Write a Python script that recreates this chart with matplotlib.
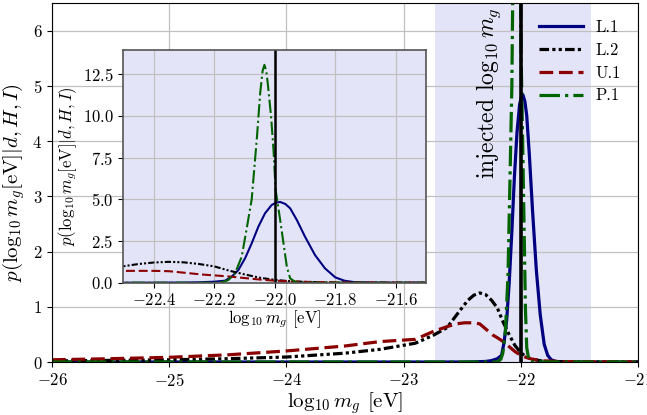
import matplotlib
matplotlib.use('Agg')
import matplotlib.pyplot as plt

plt.rcParams['font.family'] = 'serif'
plt.rcParams['font.serif'] = ['cmr10']
plt.rcParams['mathtext.fontset'] = 'cm'
plt.rcParams['axes.formatter.use_mathtext'] = True

# posterior curves
x_l1 = [-26.0, -22.5, -22.4, -22.3, -22.25, -22.2, -22.164, -22.142, -22.12, -22.098,
        -22.076, -22.054, -22.032, -22.01, -21.995, -21.982, -21.965, -21.949, -21.927,
        -21.9, -21.867, -21.834, -21.8, -21.77, -21.74, -21.7, -21.6, -21.0]
y_l1 = [0.0, 0.0, 0.003, 0.01, 0.025, 0.06, 0.12, 0.36, 0.76, 1.46,
        2.36, 3.36, 4.16, 4.66, 4.8, 4.84, 4.72, 4.46, 3.76,
        2.76, 1.66, 0.86, 0.32, 0.12, 0.04, 0.01, 0.0, 0.0]

x_l2 = [-26.0, -25.5, -25.0, -24.5, -24.0, -23.5, -23.2, -22.9, -22.75, -22.63, -22.52,
        -22.45, -22.4, -22.35, -22.3, -22.25, -22.2, -22.15, -22.1, -22.05, -22.0,
        -21.95, -21.9, -21.8, -21.6, -21.0]
y_l2 = [0.02, 0.03, 0.04, 0.06, 0.09, 0.16, 0.23, 0.34, 0.48, 0.62, 0.93,
        1.12, 1.21, 1.25, 1.22, 1.12, 0.98, 0.72, 0.5, 0.3, 0.17,
        0.09, 0.05, 0.01, 0.0, 0.0]

x_u1 = [-26.0, -25.5, -25.0, -24.5, -24.0, -23.5, -23.2, -22.9, -22.75, -22.63, -22.55,
        -22.48, -22.4, -22.35, -22.3, -22.24, -22.2, -22.15, -22.1, -22.05, -22.0,
        -21.95, -21.9, -21.8, -21.6, -21.0]
y_u1 = [0.04, 0.06, 0.085, 0.13, 0.2, 0.29, 0.37, 0.41, 0.55, 0.64, 0.69,
        0.71, 0.71, 0.69, 0.6, 0.49, 0.44, 0.37, 0.28, 0.19, 0.12,
        0.08, 0.05, 0.02, 0.005, 0.0]

x_p1 = [-26.0, -22.3, -22.2, -22.17, -22.153, -22.131, -22.109, -22.092, -22.076,
        -22.059, -22.048, -22.04, -22.034, -22.028, -22.023, -22.012, -22.004, -21.997,
        -21.982, -21.971, -21.96, -21.949, -21.93, -21.9, -21.0]
y_p1 = [0.0, 0.0, 0.0, 0.05, 0.16, 0.56, 1.56, 3.3, 5.0,
        8.66, 11.36, 12.7, 13.06, 12.7, 11.96, 9.96, 7.96, 5.56,
        3.76, 2.36, 0.96, 0.26, 0.02, 0.0, 0.0]

labels = ['L.1', 'L.2', 'U.1', 'P.1']
colors = ['navy', 'black', 'darkred', 'darkgreen']
styles = ['-', (0, (3, 1, 1, 1, 1, 1)), (0, (4.3, 1.8)), '-.']
curves = [(x_l1, y_l1), (x_l2, y_l2), (x_u1, y_u1), (x_p1, y_p1)]

injected = -22.0
band = (-22.73, -21.40)
shade = '#e4e4f8'

fig = plt.figure(figsize=(6.47, 4.15), dpi=100)
ax = fig.add_axes([0.0804, 0.1277, 0.9056, 0.8651])

ax.axvspan(band[0], band[1], color=shade, zorder=0.5, lw=0)
for (xs, ys), lab, c, ls in zip(curves, labels, colors, styles):
    ax.plot(xs, ys, color=c, linestyle=ls, lw=2.3, label=lab)
ax.axvline(injected, color='black', lw=2.6)
ax.text(-22.27, 6.43, r'injected $\log_{10}m_g$', rotation=90, ha='center', va='top',
        fontsize=17)

ax.set_xlim(-26, -21)
ax.set_ylim(0, 6.5)
ax.set_xticks([-26, -25, -24, -23, -22, -21])
ax.set_yticks([0, 1, 2, 3, 4, 5, 6])
ax.grid(True, color='#c0c0c0', lw=0.9)
ax.tick_params(labelsize=12)
ax.set_xlabel(r'$\log_{10}m_g$ [eV]', fontsize=15, labelpad=1)
ax.set_ylabel(r'$p(\log_{10}m_g[\mathrm{eV}]|d,H,I)$', fontsize=15, labelpad=4)
ax.legend(loc='upper right', frameon=False, fontsize=12, handlelength=2.6,
          labelspacing=0.45, borderaxespad=0.6)

# inset zoom around the injected value
ins = fig.add_axes([0.1906, 0.3188, 0.468, 0.5607])
ins.set_facecolor(shade)
for (xs, ys), c, ls in zip(curves, colors, styles):
    ins.plot(xs, ys, color=c, linestyle=ls, lw=1.5)
ins.axvline(injected, color='black', lw=1.8)
ins.set_xlim(-22.5, -21.5)
ins.set_ylim(0, 13.95)
ins.set_xticks([-22.4, -22.2, -22.0, -21.8, -21.6])
ins.set_yticks([0, 2.5, 5, 7.5, 10, 12.5])
ins.grid(True, color='#c0c0c0', lw=0.9)
ins.tick_params(labelsize=12)
for s in ins.spines.values():
    s.set_color('#555555')
    s.set_linewidth(1.2)
ins.set_xlabel(r'$\log_{10}m_g$ [eV]', fontsize=12, labelpad=0)
ins.set_ylabel(r'$p(\log_{10}m_g[\mathrm{eV}]|d,H,I)$', fontsize=12, labelpad=3)

fig.savefig('out.png', dpi=100)
